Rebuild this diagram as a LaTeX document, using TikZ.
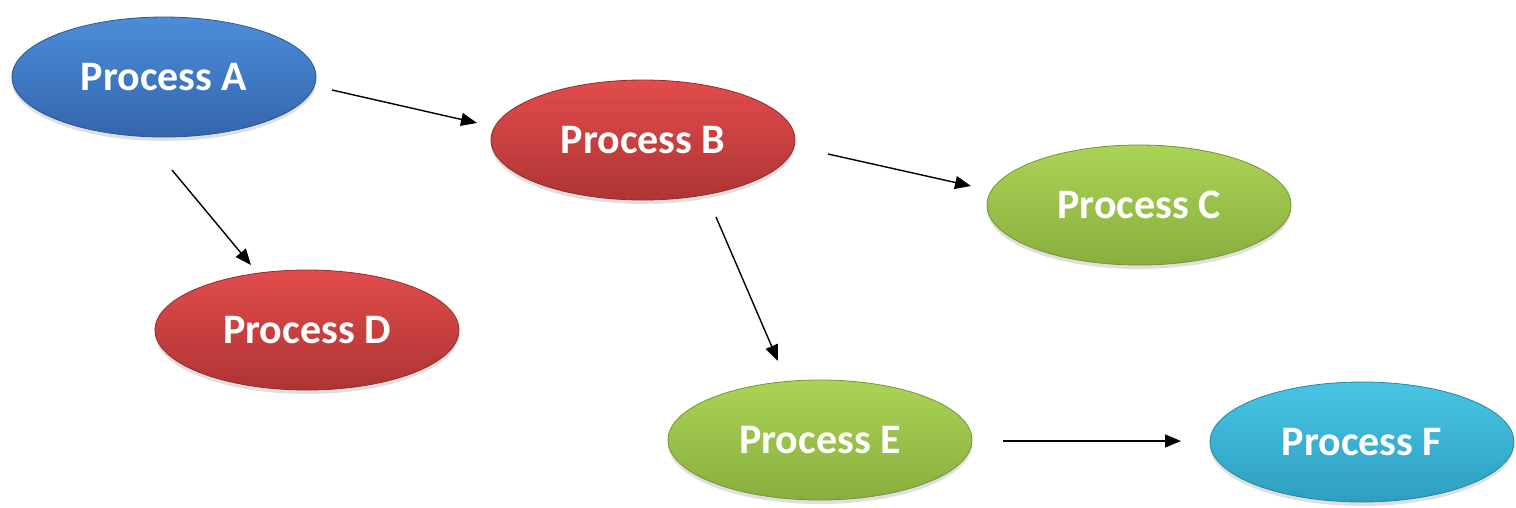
\documentclass[tikz,border=0pt]{standalone}
\usepackage{fontspec}
\setmainfont{Carlito}
\usetikzlibrary{shapes.geometric,shadows,arrows.meta}
\definecolor{bluetop}{HTML}{4C8DD8}
\definecolor{bluebot}{HTML}{3365AC}
\definecolor{redtop}{HTML}{E24C4C}
\definecolor{redbot}{HTML}{AE3434}
\definecolor{greentop}{HTML}{AAD456}
\definecolor{greenbot}{HTML}{89AE3E}
\definecolor{cyantop}{HTML}{48C5E4}
\definecolor{cyanbot}{HTML}{2E9EC0}
\tikzset{
  proc/.style={ellipse, minimum width=304pt, minimum height=120pt, inner sep=0pt,
    font=\fontsize{42}{44}\selectfont\bfseries, text=white,
    drop shadow={opacity=0.25, shadow xshift=0pt, shadow yshift=-4pt}},
  pblue/.style={proc, top color=bluetop, bottom color=bluebot, draw=bluebot!85!black, line width=0.8pt},
  pred/.style={proc, top color=redtop, bottom color=redbot, draw=redbot!85!black, line width=0.8pt},
  pgreen/.style={proc, top color=greentop, bottom color=greenbot, draw=greenbot!85!black, line width=0.8pt},
  pcyan/.style={proc, top color=cyantop, bottom color=cyanbot, draw=cyanbot!85!black, line width=0.8pt},
  conn/.style={draw=black, line width=1.4pt, -{Triangle[length=16pt,width=13pt]}}
}
\begin{document}
\begin{tikzpicture}[x=1pt,y=-1pt]
\useasboundingbox (0,0) rectangle (1516,507);
\node[pblue]  (A) at (164,77)  {Process A};
\node[pred]   (B) at (643,140) {Process B};
\node[pgreen] (C) at (1139,205) {Process C};
\node[pred]   (D) at (307,330) {Process D};
\node[pgreen] (E) at (820,440) {Process E};
\node[pcyan]  (F) at (1362,442) {Process F};
\coordinate (ab1) at (332,90);   \coordinate (ab2) at (477,123);
\coordinate (bc1) at (828,154);  \coordinate (bc2) at (971,186);
\coordinate (ad1) at (172,170);  \coordinate (ad2) at (251,265);
\coordinate (be1) at (716,217);  \coordinate (be2) at (778,361);
\coordinate (ef1) at (1003,441); \coordinate (ef2) at (1181,441);
\draw[conn] (ab1) -- (ab2);
\draw[conn] (bc1) -- (bc2);
\draw[conn] (ad1) -- (ad2);
\draw[conn] (be1) -- (be2);
\draw[conn] (ef1) -- (ef2);
\end{tikzpicture}
\end{document}
